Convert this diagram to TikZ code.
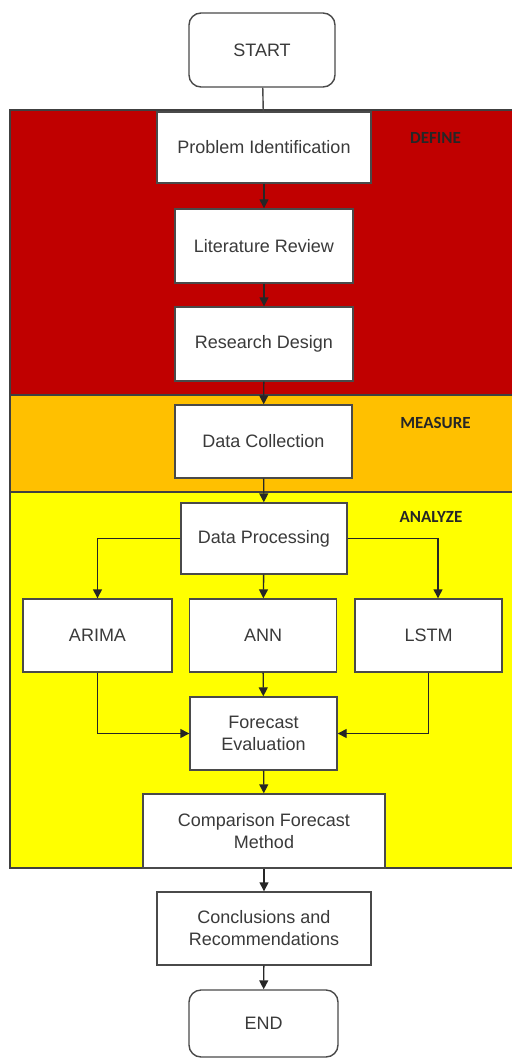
\documentclass[tikz,border=0pt]{standalone}
\usepackage{fontspec}
\setmainfont{Liberation Sans}
\newfontfamily\labelfont{Carlito}
\usetikzlibrary{arrows.meta}
\definecolor{defred}{HTML}{C00000}
\definecolor{measorange}{HTML}{FFC000}
\definecolor{anayellow}{HTML}{FFFF00}
\definecolor{txtgray}{HTML}{3A3A3A}
\definecolor{edgegray}{HTML}{4A4A4A}
\begin{document}
\begin{tikzpicture}[x=1pt,y=-1pt,
  stepbox/.style={draw=edgegray, fill=white, line width=1.4pt, text=txtgray,
    align=center, font=\fontsize{18}{22}\selectfont, inner sep=0pt},
  termbox/.style={stepbox, rounded corners=12pt},
  flow/.style={draw=black!85, line width=1.4pt, -{Triangle[length=9pt,width=9pt]}},
  phase/.style={font=\labelfont\bfseries\fontsize{17}{20}\selectfont, text=black!85},
  band/.style={line width=1.6pt, draw=black!75}]
\useasboundingbox (0,0) rectangle (512,1059);

% phase bands
\fill[defred] (10,110) rectangle (512,395);
\fill[measorange] (10,395) rectangle (512,492);
\fill[anayellow] (10,492) rectangle (512,868);
\draw[band] (512,110) -- (10,110) -- (10,868) -- (512,868);
\draw[band] (10,395) -- (512,395);
\draw[band] (10,492) -- (512,492);

% phase labels
\node[phase] (ldefine) at (435.5,138) {DEFINE};
\node[phase] (lmeasure) at (435.5,423) {MEASURE};
\node[phase] (lanalyze) at (431,517) {ANALYZE};

% steps
\node[termbox, minimum width=146pt, minimum height=74pt] (start) at (262,50) {START};
\node[stepbox, minimum width=214pt, minimum height=71pt] (prob) at (264,147.5) {Problem Identification};
\node[stepbox, minimum width=178pt, minimum height=74pt] (lit) at (264,246) {Literature Review};
\node[stepbox, minimum width=178pt, minimum height=74pt] (rd) at (264,344) {Research Design};
\node[stepbox, minimum width=177pt, minimum height=73pt] (dc) at (263.5,441.5) {Data Collection};
\node[stepbox, minimum width=166pt, minimum height=71pt] (dp) at (264,538.5) {Data Processing};
\node[stepbox, minimum width=149pt, minimum height=73pt] (arima) at (97.5,635.5) {ARIMA};
\node[stepbox, minimum width=147pt, minimum height=73pt] (ann) at (263,635.5) {ANN};
\node[stepbox, minimum width=147pt, minimum height=73pt] (lstm) at (428.5,635.5) {LSTM};
\node[stepbox, minimum width=147pt, minimum height=73pt] (fe) at (263.5,733.5) {Forecast\\Evaluation};
\node[stepbox, minimum width=242pt, minimum height=74pt] (cfm) at (264,831) {Comparison Forecast\\Method};
\node[stepbox, minimum width=214pt, minimum height=73pt] (cr) at (264,928.5) {Conclusions and\\Recommendations};
\node[termbox, minimum width=149pt, minimum height=67pt] (end) at (263.5,1023.5) {END};

% connectors
\draw[draw=edgegray, line width=1.4pt] (start) -- (prob);
\draw[flow] (prob) -- (lit);
\draw[flow] (lit) -- (rd);
\draw[flow] (rd) -- (dc);
\draw[flow] (dc) -- (dp);
\draw[flow] (dp.west) -| (arima.north);
\draw[flow] (dp) -- (ann);
\draw[flow] (dp.east) -| ([xshift=9.5pt]lstm.north);
\draw[flow] (arima.south) |- (fe.west);
\draw[flow] (ann) -- (fe);
\draw[flow] (lstm.south) |- (fe.east);
\draw[flow] (fe) -- (cfm);
\draw[flow] (cfm) -- (cr);
\draw[flow] (cr) -- (end);
\end{tikzpicture}
\end{document}
